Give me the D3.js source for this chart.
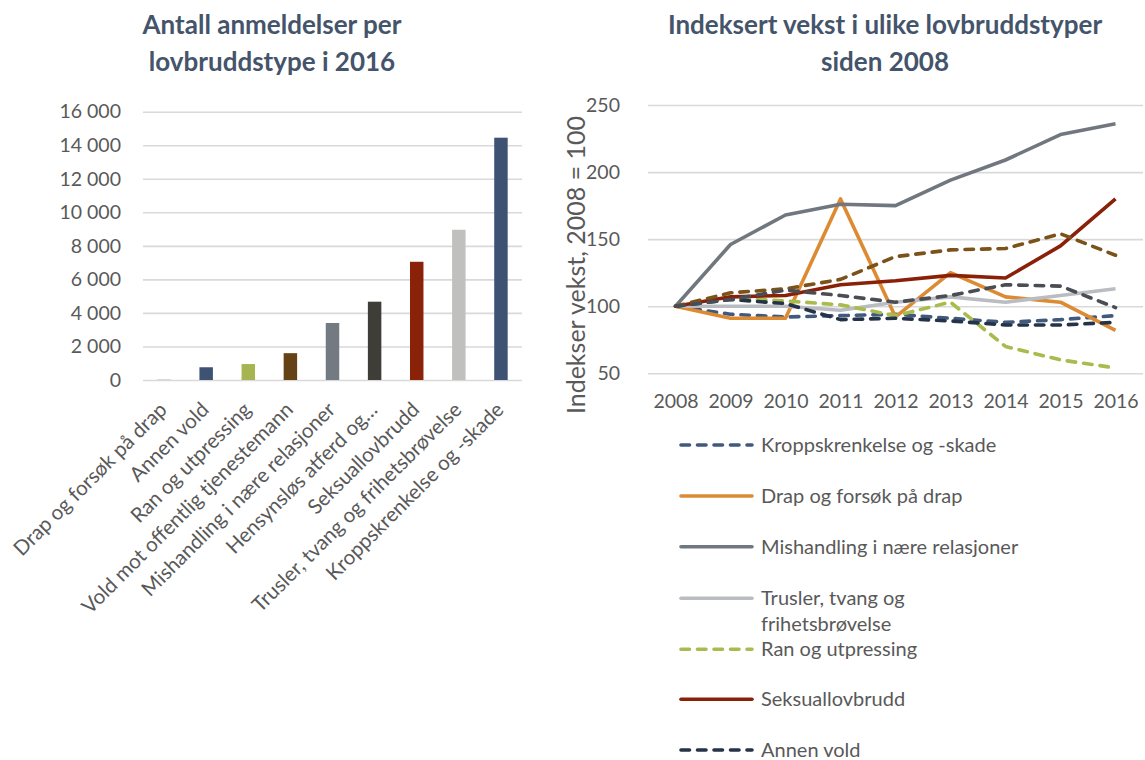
<!DOCTYPE html>
<html>
<head>
<meta charset="utf-8">
<script src="https://cdn.jsdelivr.net/npm/d3@7"></script>
<style>
  body { margin: 0; background: #fff; }
  svg text { font-family: Lato, "Open Sans", sans-serif; }
</style>
</head>
<body>
<svg id="chart" width="1145" height="760"></svg>
<script>
// ---- Anmeldelser per lovbruddstype, 2016 ----
const categories = [
  "Drap og forsøk på drap",
  "Annen vold",
  "Ran og utpressing",
  "Vold mot offentlig tjenestemann",
  "Mishandling i nære relasjoner",
  "Hensynsløs atferd og…",
  "Seksuallovbrudd",
  "Trusler, tvang og frihetsbrøvelse",
  "Kroppskrenkelse og -skade"
];
const reports2016 = [10, 760, 950, 1600, 3400, 4670, 7050, 8960, 14450];
const barColors = ["#3e5373", "#3e5373", "#a6b550", "#654216", "#737a82", "#3f3d38", "#8a2109", "#c0c0be", "#3e5373"];
const countTicks = [0, 2000, 4000, 6000, 8000, 10000, 12000, 14000, 16000];

// ---- Indeksert vekst (2008 = 100) ----
const years = [2008, 2009, 2010, 2011, 2012, 2013, 2014, 2015, 2016];
const indexTicks = [50, 100, 150, 200, 250];
const kroppskrenkelse = [100, 94, 92, 93, 94, 91, 88, 90, 93];
const drap            = [100, 91, 91, 180, 92, 125, 107, 103, 82];
const mishandling     = [100, 146, 168, 176, 175, 194, 209, 228, 236];
const trusler         = [100, 100, 100, 97, 103, 107, 103, 108, 113];
const ran             = [100, 106, 104, 101, 93, 103, 70, 60, 54];
const seksuallovbrudd = [100, 107, 108, 116, 119, 123, 121, 145, 180];
const annenVold       = [100, 105, 102, 90, 91, 89, 86, 86, 88];
const voldMotOffentlig = [100, 110, 113, 120, 137, 142, 143, 154, 138];
const hensynslos      = [100, 105, 112, 108, 103, 108, 116, 115, 99];

const seriesNames  = ["Kroppskrenkelse og -skade", "Drap og forsøk på drap", "Mishandling i nære relasjoner",
                      "Trusler, tvang og frihetsbrøvelse", "Ran og utpressing", "Seksuallovbrudd", "Annen vold",
                      "Vold mot offentlig tjenestemann", "Hensynsløs atferd og ferdselslovbrudd"];
const seriesValues = [kroppskrenkelse, drap, mishandling, trusler, ran, seksuallovbrudd, annenVold,
                      voldMotOffentlig, hensynslos];
const seriesColors = ["#40597d", "#dd8b33", "#71777f", "#b9bdc1", "#a8bc4e", "#8b2009", "#243347",
                      "#7b5219", "#4a4e54"];
const seriesDashed = [true, false, false, false, true, false, true, true, true];
const legendCount = 7;

const svg = d3.select("#chart");
const textColor = "#595959";
const titleColor = "#44546a";
const gridColor = "#d9d9d9";
const fmt = d3.formatLocale({ decimal: ",", thousands: "\u00a0", grouping: [3], currency: ["", " kr"] }).format(",d");

// ---------- Left: bar chart ----------
const xBand = d3.scaleBand().domain(categories).range([143, 522]).paddingInner(0.68).paddingOuter(0.34);
const yCount = d3.scaleLinear().domain([0, 16000]).range([380, 111.7]);

const left = svg.append("g");
left.append("text")
  .attr("text-anchor", "middle")
  .attr("fill", titleColor).attr("font-weight", 700).attr("font-size", 26)
  .selectAll("tspan").data(["Antall anmeldelser per", "lovbruddstype i 2016"]).join("tspan")
  .attr("x", 272).attr("y", (d, i) => 34 + i * 37).text(d => d);

const yAxisL = left.append("g").attr("transform", "translate(143,0)")
  .call(d3.axisLeft(yCount).tickValues(countTicks).tickFormat(fmt).tickSize(-379).tickPadding(22));
yAxisL.select(".domain").remove();
yAxisL.selectAll(".tick line").attr("stroke", gridColor).attr("stroke-width", 1.6);
yAxisL.selectAll(".tick text").attr("fill", textColor).attr("font-size", 19.5).attr("font-family", "Lato");

left.append("g").selectAll("rect").data(categories).join("rect")
  .attr("x", d => xBand(d))
  .attr("width", xBand.bandwidth())
  .attr("y", (d, i) => yCount(reports2016[i]))
  .attr("height", (d, i) => yCount(0) - yCount(reports2016[i]))
  .attr("fill", (d, i) => barColors[i]);

left.append("g").selectAll("text").data(categories).join("text")
  .attr("transform", d => `translate(${xBand(d) + xBand.bandwidth() / 2 + 4},411) rotate(-45)`)
  .attr("text-anchor", "end")
  .attr("fill", textColor).attr("font-size", 20.5)
  .text(d => d);

// ---------- Right: indexed line chart ----------
const xYear = d3.scalePoint().domain(years).range([648, 1143]).padding(0.5);
const yIndex = d3.scaleLinear().domain([50, 250]).range([373.3, 105]);

const right = svg.append("g");
right.append("text")
  .attr("text-anchor", "middle")
  .attr("fill", titleColor).attr("font-weight", 700).attr("font-size", 26)
  .selectAll("tspan").data(["Indeksert vekst i ulike lovbruddstyper", "siden 2008"]).join("tspan")
  .attr("x", 885).attr("y", (d, i) => 34 + i * 37).text(d => d);

const yAxisR = right.append("g").attr("transform", "translate(648,0)")
  .call(d3.axisLeft(yIndex).tickValues(indexTicks).tickSize(-495).tickPadding(28));
yAxisR.select(".domain").remove();
yAxisR.selectAll(".tick line").attr("stroke", gridColor).attr("stroke-width", 1.6);
yAxisR.selectAll(".tick text").attr("fill", textColor).attr("font-size", 19.5).attr("font-family", "Lato");

const xAxisR = right.append("g").attr("transform", "translate(0,380)")
  .call(d3.axisBottom(xYear).tickSize(0).tickPadding(14));
xAxisR.select(".domain").remove();
xAxisR.selectAll(".tick text").attr("fill", textColor).attr("font-size", 19.5).attr("font-family", "Lato");

right.append("text")
  .attr("transform", "translate(585,265) rotate(-90)")
  .attr("text-anchor", "middle")
  .attr("fill", textColor).attr("font-size", 25)
  .text("Indekser vekst, 2008 = 100");

const line = d3.line().x((d, i) => xYear(years[i])).y(d => yIndex(d));
const dash = "8.5,8";

right.append("g").selectAll("path").data(seriesValues).join("path")
  .attr("d", d => line(d))
  .attr("fill", "none")
  .attr("stroke", (d, i) => seriesColors[i])
  .attr("stroke-width", 3.6)
  .attr("stroke-linejoin", "round")
  .attr("stroke-linecap", (d, i) => seriesDashed[i] ? "round" : "butt")
  .attr("stroke-dasharray", (d, i) => seriesDashed[i] ? dash : null);

// Legend
const legendY = [445, 496, 546.7, 598.3, 649.3, 699.3, 750];
const legend = right.append("g").selectAll("g").data(seriesNames.slice(0, legendCount)).join("g")
  .attr("transform", (d, i) => `translate(0,${legendY[i]})`);
legend.append("line")
  .attr("x1", 681).attr("x2", 752)
  .attr("stroke", (d, i) => seriesColors[i])
  .attr("stroke-width", 3.6)
  .attr("stroke-linecap", "round")
  .attr("stroke-dasharray", (d, i) => seriesDashed[i] ? dash : null);
legend.append("text")
  .attr("x", 761).attr("fill", textColor).attr("font-size", 20)
  .selectAll("tspan")
  .data(d => d === "Trusler, tvang og frihetsbrøvelse" ? ["Trusler, tvang og", "frihetsbrøvelse"] : [d])
  .join("tspan")
  .attr("x", 761).attr("y", (d, i) => i * 26).attr("dy", "0.35em")
  .text(d => d);
</script>
</body>
</html>
